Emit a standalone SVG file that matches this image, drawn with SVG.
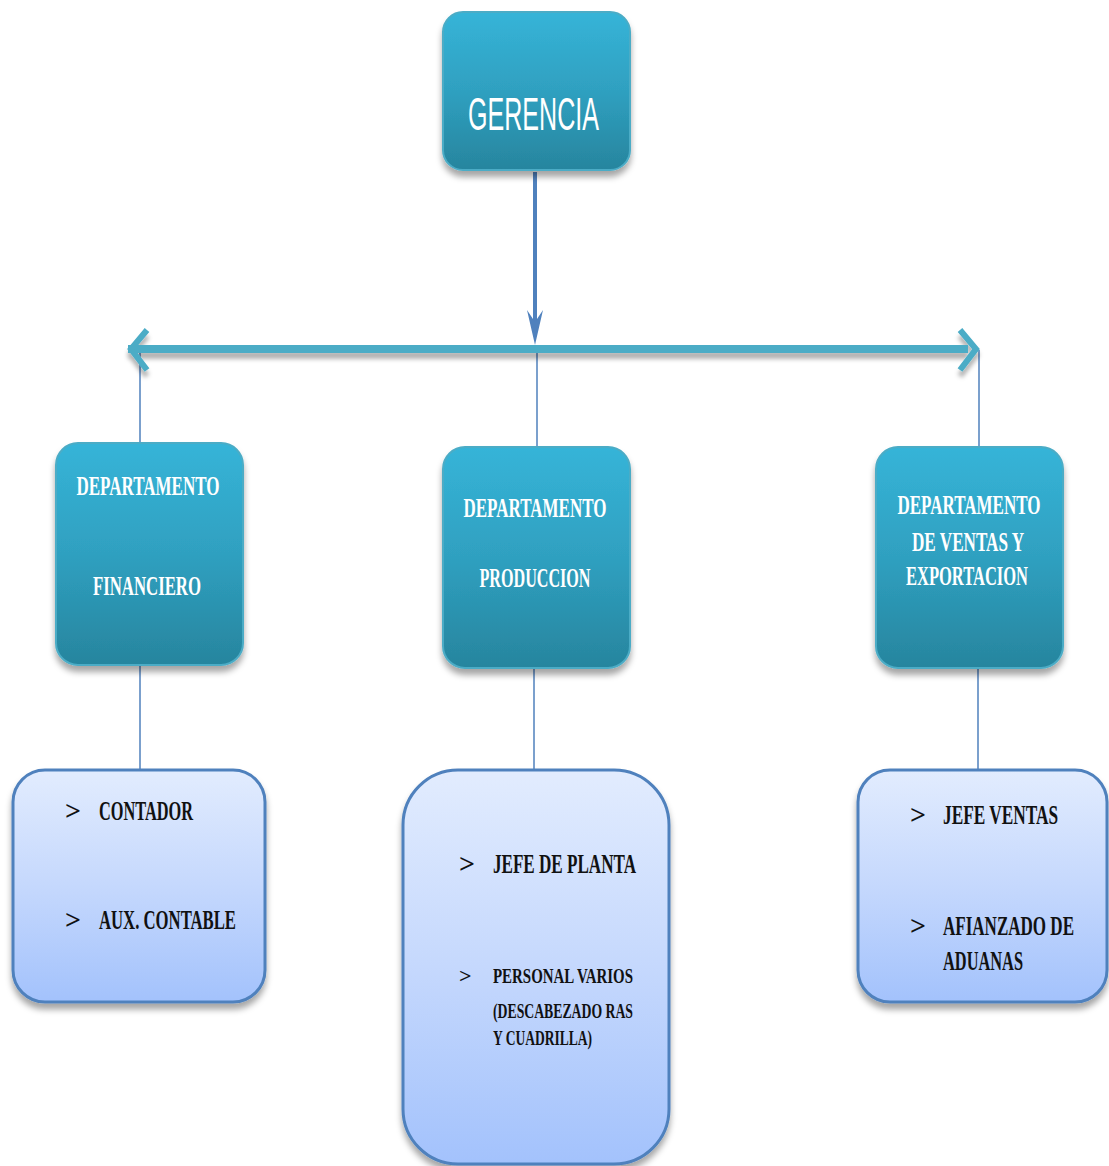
<svg xmlns="http://www.w3.org/2000/svg" width="1109" height="1166" viewBox="0 0 1109 1166">
<defs>
<linearGradient id="gTeal" x1="0" y1="0" x2="0" y2="1">
<stop offset="0" stop-color="#36B4D8"/>
<stop offset="0.5" stop-color="#2FA0C0"/>
<stop offset="1" stop-color="#27859E"/>
</linearGradient>
<linearGradient id="gBlue" x1="0" y1="0" x2="0" y2="1">
<stop offset="0" stop-color="#E2ECFE"/>
<stop offset="0.5" stop-color="#C5D8FD"/>
<stop offset="1" stop-color="#A3C2FC"/>
</linearGradient>
<filter id="sh" x="-10%" y="-10%" width="120%" height="125%">
<feDropShadow dx="0" dy="6" stdDeviation="3" flood-color="#000" flood-opacity="0.35"/>
</filter>
<filter id="sh2" x="-5%" y="-50%" width="110%" height="300%">
<feDropShadow dx="0" dy="6" stdDeviation="2" flood-color="#000" flood-opacity="0.3"/>
</filter>
</defs>
<style>
.top{fill:url(#gTeal);stroke:#4BACC6;stroke-width:2;filter:url(#sh)}
.sub{fill:url(#gBlue);stroke:#4F81BD;stroke-width:3;filter:url(#sh)}
.g{font-family:"Liberation Sans",Arial,sans-serif;font-size:46px;fill:#fff}
.d{font-family:"Liberation Serif","Times New Roman",serif;font-weight:bold;font-size:27px;fill:#fff;text-anchor:middle}
.t{font-family:"Liberation Serif","Times New Roman",serif;font-weight:bold;font-size:28px;fill:#111}
.s{font-family:"Liberation Serif","Times New Roman",serif;font-weight:bold;font-size:22px;fill:#111}
.b{font-family:"Liberation Serif","Times New Roman",serif;font-weight:bold;font-size:24px;fill:#111}
.ln{stroke:#4F81BD;stroke-width:1.5;fill:none}
</style>
<rect width="1109" height="1166" fill="#fff"/>
<g id="connectors">
<line class="ln" x1="140" y1="350" x2="140" y2="443"/>
<line class="ln" x1="537" y1="350" x2="537" y2="447"/>
<line class="ln" x1="979" y1="350" x2="979" y2="447"/>
<line class="ln" x1="140" y1="665" x2="140" y2="770"/>
<line class="ln" x1="534" y1="668" x2="534" y2="770"/>
<line class="ln" x1="978" y1="668" x2="978" y2="770"/>
<g filter="url(#sh2)">
<rect x="128" y="345" width="840" height="8" fill="#4BACC6"/>
<path d="M147,330 L131,349 L147,370" fill="none" stroke="#4BACC6" stroke-width="6"/>
<path d="M960,330 L976,349 L960,370" fill="none" stroke="#4BACC6" stroke-width="6"/>
</g>
<line x1="535" y1="172" x2="535" y2="330" stroke="#4F81BD" stroke-width="4"/>
<path d="M527,310 L535,345 L543,310 L535,322 Z" fill="#4F81BD"/>
</g>
<g id="gerencia">
<rect class="top" x="443" y="12" width="187" height="158" rx="20"/>
<text class="g" x="468" y="130" textLength="131" lengthAdjust="spacingAndGlyphs">GERENCIA</text>
</g>
<g id="dep-financiero">
<rect class="top" x="56" y="443" width="187" height="222" rx="22"/>
<text class="d" x="148" y="495" textLength="143" lengthAdjust="spacingAndGlyphs">DEPARTAMENTO</text>
<text class="d" x="147" y="595" textLength="108" lengthAdjust="spacingAndGlyphs">FINANCIERO</text>
</g>
<g id="dep-produccion">
<rect class="top" x="443" y="447" width="187" height="221" rx="22"/>
<text class="d" x="535" y="517" textLength="143" lengthAdjust="spacingAndGlyphs">DEPARTAMENTO</text>
<text class="d" x="535" y="587" textLength="111" lengthAdjust="spacingAndGlyphs">PRODUCCION</text>
</g>
<g id="dep-ventas">
<rect class="top" x="876" y="447" width="187" height="221" rx="22"/>
<text class="d" x="969" y="514" textLength="143" lengthAdjust="spacingAndGlyphs">DEPARTAMENTO</text>
<text class="d" x="968" y="551" textLength="112" lengthAdjust="spacingAndGlyphs">DE VENTAS Y</text>
<text class="d" x="967" y="585" textLength="122" lengthAdjust="spacingAndGlyphs">EXPORTACION</text>
</g>
<g id="box-financiero">
<rect class="sub" x="13" y="770" width="252" height="232" rx="32"/>
<text class="t" x="65" y="820">&gt;</text>
<text class="t" x="99" y="820" textLength="94" lengthAdjust="spacingAndGlyphs">CONTADOR</text>
<text class="t" x="65" y="929">&gt;</text>
<text class="t" x="99" y="929" textLength="137" lengthAdjust="spacingAndGlyphs">AUX. CONTABLE</text>
</g>
<g id="box-produccion">
<rect class="sub" x="403" y="770" width="266" height="394" rx="55"/>
<text class="t" x="459" y="873">&gt;</text>
<text class="t" x="493" y="873" textLength="143" lengthAdjust="spacingAndGlyphs">JEFE DE PLANTA</text>
<text class="s" x="459" y="983">&gt;</text>
<text class="s" x="493" y="983" textLength="140" lengthAdjust="spacingAndGlyphs">PERSONAL  VARIOS</text>
<text class="s" x="493" y="1018" textLength="140" lengthAdjust="spacingAndGlyphs">(DESCABEZADO RAS</text>
<text class="s" x="493" y="1045" textLength="99" lengthAdjust="spacingAndGlyphs">Y CUADRILLA)</text>
</g>
<g id="box-ventas">
<rect class="sub" x="858" y="770" width="249" height="232" rx="32"/>
<text class="t" x="910" y="824">&gt;</text>
<text class="t" x="943" y="824" textLength="115" lengthAdjust="spacingAndGlyphs">JEFE VENTAS</text>
<text class="t" x="910" y="935">&gt;</text>
<text class="t" x="943" y="935" textLength="131" lengthAdjust="spacingAndGlyphs">AFIANZADO DE</text>
<text class="t" x="943" y="970" textLength="80" lengthAdjust="spacingAndGlyphs">ADUANAS</text>
</g>
</svg>
